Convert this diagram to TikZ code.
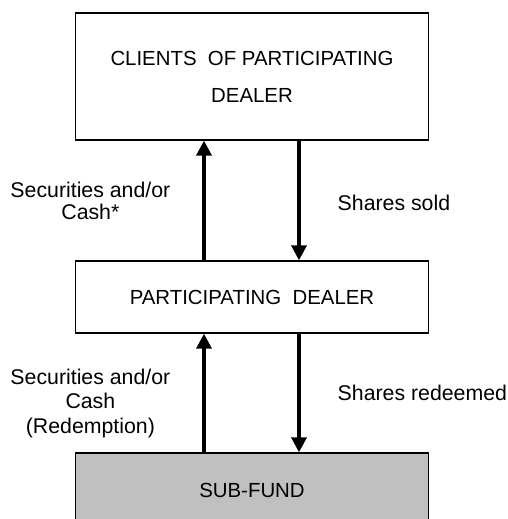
\documentclass[tikz,border=0pt]{standalone}
\usepackage{fontspec}
\setmainfont{Liberation Sans}
\usetikzlibrary{arrows.meta,positioning}
\definecolor{fundgray}{RGB}{192,192,192}

\begin{document}
\begin{tikzpicture}[x=1pt,y=-1pt,node distance=220pt,on grid,
	box/.style={draw,line width=1.3pt,minimum width=353pt,inner sep=0pt,align=center,
		font=\fontsize{20.4}{37}\selectfont},
	flow/.style={line width=3.4pt,-{Triangle[width=15pt,length=15pt]}},
	lbl/.style={align=center,inner sep=0pt,font=\fontsize{21.3}{22}\selectfont}]
			\clip (0,0) rectangle (507,519);
			\node[box,minimum height=127pt] (clients) at (252,76.5) {CLIENTS\ \ OF PARTICIPATING\\DEALER};
			\node[box,minimum height=72pt] (dealer) [below=220.5pt of clients] {PARTICIPATING\ \ DEALER};
			\node[box,minimum height=74pt,fill=fundgray] (fund) [below=193pt of dealer] {SUB-FUND};

			\draw[flow] ([xshift=-48pt]dealer.north) -- ([xshift=-48pt]clients.south)
				node[lbl,midway,anchor=east,xshift=-32pt] {Securities and/or\\Cash*};
			\draw[flow] ([xshift=47pt]clients.south) -- ([xshift=47pt]dealer.north)
				node[lbl,midway,anchor=west,xshift=37pt,yshift=-2pt] {Shares sold};
			\draw[flow] ([xshift=-48pt]fund.north) -- ([xshift=-48pt]dealer.south)
				node[lbl,midway,anchor=east,xshift=-32pt,yshift=-10pt,font=\fontsize{21.3}{24.5}\selectfont] {Securities and/or\\Cash\\(Redemption)};
			\draw[flow] ([xshift=47pt]dealer.south) -- ([xshift=47pt]fund.north)
				node[lbl,midway,anchor=west,xshift=37pt] {Shares redeemed};
		\end{tikzpicture}
\end{document}
